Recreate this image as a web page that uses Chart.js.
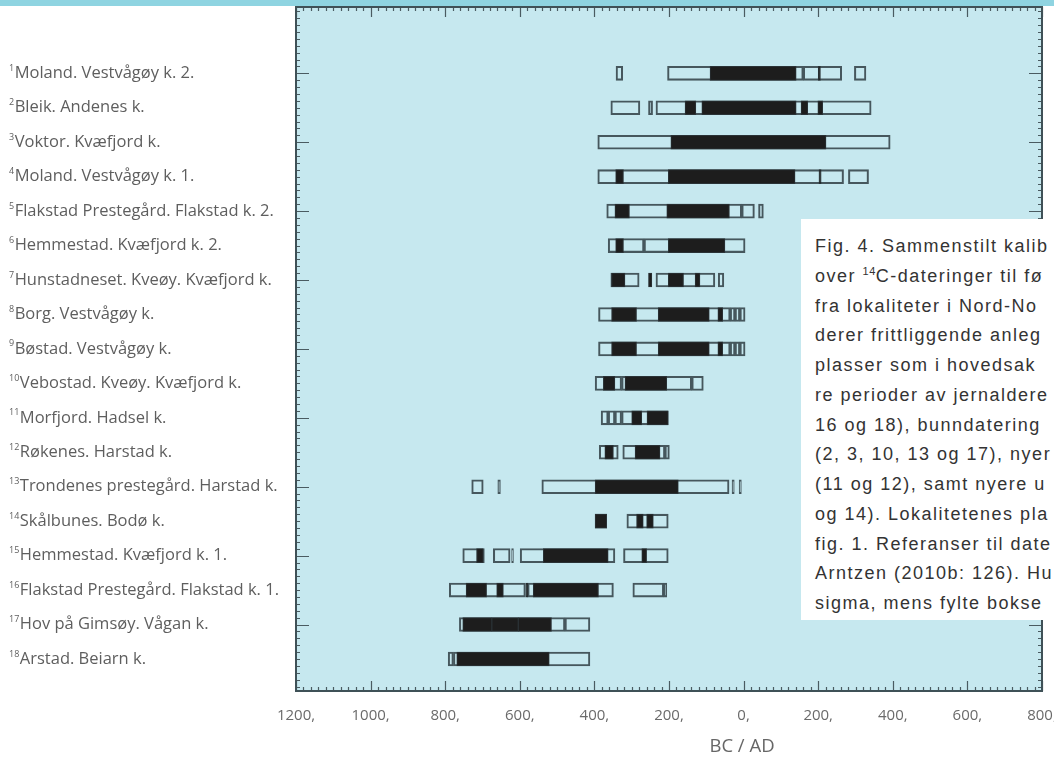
<!DOCTYPE html>
<html><head><meta charset="utf-8">
<script src="https://cdn.jsdelivr.net/npm/chart.js@4.4.1/dist/chart.umd.min.js"></script>
<style>
html,body{margin:0;padding:0;background:#fff;}
#wrap{position:relative;width:1054px;height:758px;overflow:hidden;}
#topband{position:absolute;left:0;top:0;width:1054px;height:6px;background:#8fd4e1;z-index:2;}
#caption{position:absolute;left:801px;top:219px;width:253px;height:401px;background:#fff;overflow:hidden;white-space:nowrap;
 font-family:"Liberation Sans",Arial,sans-serif;font-size:18px;color:#333;letter-spacing:1.5px;line-height:29.75px;padding:13px 0 0 14px;box-sizing:border-box;z-index:3;}
#caption sup{font-size:11px;line-height:0;vertical-align:7px;letter-spacing:0.5px;}
canvas{position:absolute;left:0;top:0;}
</style></head>
<body>
<div id="wrap">
<canvas id="c" width="1054" height="758"></canvas>
<div id="topband"></div>
<div id="caption">Fig. 4. Sammenstilt kalib<br>over <sup>14</sup>C-dateringer til fø<br>fra lokaliteter i Nord-No<br>derer frittliggende anleg<br>plasser som i hovedsak<br>re perioder av jernaldere<br>16 og 18), bunndatering<br>(2, 3, 10, 13 og 17), nyer<br>(11 og 12), samt nyere u<br>og 14). Lokalitetenes pla<br>fig. 1. Referanser til date<br>Arntzen (2010b: 126). Hu<br>sigma, mens fylte bokse</div>
</div>
<script>
// Sites (rows, top to bottom)
const sites = ["Moland. Vestvågøy k. 2.", "Bleik. Andenes k.", "Voktor. Kvæfjord k.", "Moland. Vestvågøy k. 1.",
  "Flakstad Prestegård. Flakstad k. 2.", "Hemmestad. Kvæfjord k. 2.", "Hunstadneset. Kveøy. Kvæfjord k.",
  "Borg. Vestvågøy k.", "Bøstad. Vestvågøy k.", "Vebostad. Kveøy. Kvæfjord k.", "Morfjord. Hadsel k.",
  "Røkenes. Harstad k.", "Trondenes prestegård. Harstad k.", "Skålbunes. Bodø k.", "Hemmestad. Kvæfjord k. 1.",
  "Flakstad Prestegård. Flakstad k. 1.", "Hov på Gimsøy. Vågan k.", "Arstad. Beiarn k."];

// 2 sigma ranges (open boxes), years: negative = BC, positive = AD
const twoSigma = [
  [[-342,-324],[-204,160],[160,263],[297,328]],
  [[-356,-278],[-255,-244],[-235,342]],
  [[-391,393]],
  [[-391,268],[281,335]],
  [[-367,-5],[-5,29],[40,53]],
  [[-363,-267],[-267,4]],
  [[-356,-280],[-235,-77],[-68,-53]],
  [[-389,-36],[-36,-23],[-23,-10],[-10,4]],
  [[-389,-36],[-36,-23],[-23,-10],[-10,4]],
  [[-398,-327],[-327,-139],[-139,-108]],
  [[-382,-363],[-363,-345],[-345,-327],[-327,-202]],
  [[-387,-336],[-324,-211],[-211,-199]],
  [[-729,-698],[-659,-652],[-541,-39],[-31,-25],[-12,-6]],
  [[-398,-367],[-313,-202]],
  [[-753,-695],[-671,-626],[-622,-617],[-599,-345],[-322,-202]],
  [[-789,-585],[-579,-349],[-297,-214],[-214,-206]],
  [[-762,-479],[-479,-412]],
  [[-792,-778],[-778,-412]]
];

// 1 sigma ranges (filled boxes)
const oneSigma = [
  [[-90,141],[200,206]],
  [[-157,-128],[-112,141],[154,172],[199,212]],
  [[-195,221]],
  [[-343,-322],[-202,138],[202,208]],
  [[-345,-306],[-206,-38]],
  [[-343,-322],[-202,-50]],
  [[-354,-318],[-255,-246],[-202,-161],[-130,-117]],
  [[-354,-287],[-229,-92],[-69,-56]],
  [[-354,-287],[-229,-92],[-69,-56]],
  [[-376,-345],[-318,-206]],
  [[-300,-273],[-259,-202]],
  [[-372,-349],[-291,-224]],
  [[-398,-175]],
  [[-398,-367],[-287,-269],[-260,-242]],
  [[-716,-698],[-537,-363],[-273,-260]],
  [[-744,-689],[-662,-644],[-584,-578],[-564,-389]],
  [[-753,-675],[-675,-604],[-604,-515]],
  [[-769,-521]]
];

// x axis tick values (years)
const xTicks = [-1200,-1000,-800,-600,-400,-200,0,200,400,600,800];
const axisTitle = "BC / AD";

const openData = [], fillData = [];
twoSigma.forEach((segs, i) => segs.forEach(s => openData.push({x: s, y: i + 1})));
oneSigma.forEach((segs, i) => segs.forEach(s => fillData.push({x: s, y: i + 1})));

const decor = {
  id: 'decor',
  beforeDatasetsDraw(chart) {
    const {ctx, chartArea: a} = chart;
    ctx.save();
    ctx.fillStyle = '#c6e8ef';
    ctx.fillRect(a.left, a.top, a.right - a.left, a.bottom - a.top);
    ctx.restore();
  },
  afterDatasetsDraw(chart) {
    const {ctx, chartArea: a, scales} = chart;
    const xs = scales.x, ys = scales.y;
    ctx.save();
    ctx.strokeStyle = '#4a5b61';
    ctx.lineWidth = 1.2;
    ctx.beginPath();
    for (let v = xTicks[0]; v <= xTicks[xTicks.length - 1]; v += 20) {
      const px = Math.round(xs.getPixelForValue(v)) + 0.5;
      const major = v % 200 === 0;
      const len = major ? 10 : 4;
      ctx.moveTo(px, a.bottom); ctx.lineTo(px, a.bottom - len);
      ctx.moveTo(px, a.top); ctx.lineTo(px, a.top + len);
    }
    for (let k = -5; k <= 100; k++) {
      const r = k * 0.2;
      if (r < ys.min || r > ys.max) continue;
      const py = Math.round(ys.getPixelForValue(r)) + 0.5;
      const major = (k % 10 === 5);
      const len = major ? 13 : 4;
      ctx.moveTo(a.left, py); ctx.lineTo(a.left + len, py);
      ctx.moveTo(a.right, py); ctx.lineTo(a.right - len, py);
    }
    ctx.stroke();
    ctx.lineWidth = 2;
    ctx.strokeStyle = '#3f5157';
    ctx.strokeRect(a.left, a.top, a.right - a.left, a.bottom - a.top);
    ctx.restore();
  },
  afterDraw(chart) {
    const {ctx, scales} = chart;
    const ys = scales.y;
    ctx.save();
    ctx.textBaseline = 'middle';
    ctx.fillStyle = '#5e5e5e';
    sites.forEach((name, i) => {
      const y = ys.getPixelForValue(i + 1);
      ctx.font = '9px "Open Sans"';
      const sup = String(i + 1);
      ctx.fillText(sup, 9, y - 5);
      const w = ctx.measureText(sup).width;
      ctx.font = '16.5px "Open Sans"';
      ctx.fillText(name, 9 + w + 0.5, y);
    });
    ctx.font = '18.5px "Open Sans"';
    ctx.fillStyle = '#666';
    ctx.textAlign = 'center';
    ctx.fillText(axisTitle, 742, 747);
    ctx.restore();
  }
};

new Chart(document.getElementById('c'), {
  type: 'bar',
  data: {
    datasets: [
      {label: '1 sigma', data: fillData, backgroundColor: '#1d1d1d', borderColor: '#2a3236', borderWidth: 1,
       borderSkipped: false, barThickness: 14, grouped: false, order: 0},
      {label: '2 sigma', data: openData, backgroundColor: 'rgba(0,0,0,0)', borderColor: '#46575d', borderWidth: 1.4,
       borderSkipped: false, barThickness: 14, grouped: false, order: 1}
    ]
  },
  options: {
    indexAxis: 'y',
    responsive: false,
    animation: false,
    layout: {padding: {left: 296, right: 12, top: 7, bottom: 17}},
    plugins: {legend: {display: false}, tooltip: {enabled: false}},
    scales: {
      x: {
        type: 'linear', min: -1200, max: 800, position: 'bottom',
        afterBuildTicks: s => { s.ticks = xTicks.map(v => ({value: v})); },
        afterFit: s => { s.paddingLeft = 0; s.paddingRight = 0; },
        ticks: {callback: v => Math.abs(v) + ',', font: {family: 'Open Sans', size: 15}, color: '#6a6a6a',
                padding: 16, maxRotation: 0, autoSkip: false},
        grid: {display: false, drawTicks: false, tickLength: 0},
        border: {display: false}
      },
      y: {type: 'linear', reverse: true, offset: false, min: -0.925, max: 18.93, display: false}
    }
  },
  plugins: [decor]
});
</script>
</body></html>
